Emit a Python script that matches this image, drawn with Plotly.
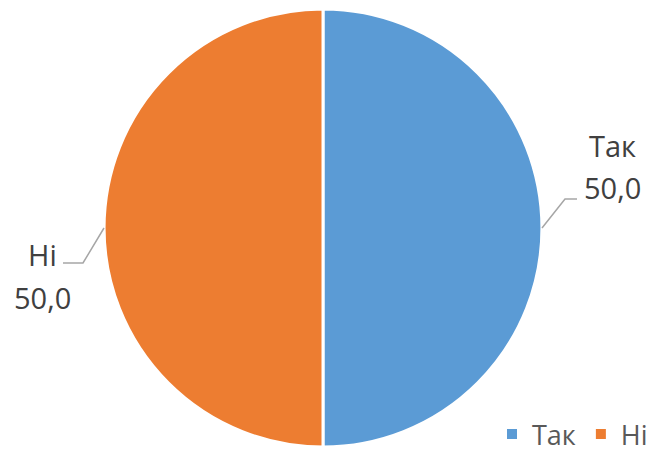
import math
import plotly.graph_objects as go

categories = ["Так", "Ні"]
values = [50.0, 50.0]
colors = ["#5B9BD5", "#ED7D31"]

W, H = 653, 459
cx, cy, r = 323, 228, 219  # pie geometry in px (from top)

def px(x):
    return x / W

def py(y):
    return 1 - y / H

fig = go.Figure()
fig.add_trace(go.Pie(
    labels=categories,
    values=values,
    sort=False,
    direction="clockwise",
    rotation=0,
    marker=dict(colors=colors, line=dict(color="white", width=3)),
    textinfo="none",
    hoverinfo="label+value",
    domain=dict(x=[px(cx - r), px(cx + r)], y=[py(cy + r), py(cy - r)]),
    showlegend=True,
))

total = sum(values)
start = 0.0
label_specs = [
    dict(elbow=(23, -29), hlen=12, tx=70, ty1=-83, ty2=-40),
    dict(elbow=(-21, 35), hlen=-20, tx=-62, ty1=26, ty2=69),
]
shapes = []
annotations = []
for cat, v, spec in zip(categories, values, label_specs):
    mid = start + v / 2
    start += v
    ang = math.radians(90 - 360 * mid / total)
    ex = cx + r * math.cos(ang)
    ey = cy - r * math.sin(ang)
    bx, by = ex + spec["elbow"][0], ey + spec["elbow"][1]
    hx = bx + spec["hlen"]
    shapes.append(dict(type="path", xref="paper", yref="paper",
                       path=f"M {px(ex)},{py(ey)} L {px(bx)},{py(by)} L {px(hx)},{py(by)}",
                       line=dict(color="#A6A6A6", width=1.5)))
    tx = ex + spec["tx"]
    annotations.append(dict(x=px(tx), y=py(ey + spec["ty1"]), xref="paper", yref="paper",
                            text=cat, showarrow=False, xanchor="center", yanchor="middle",
                            font=dict(size=29, color="#404040", family="Open Sans")))
    annotations.append(dict(x=px(tx), y=py(ey + spec["ty2"]), xref="paper", yref="paper",
                            text=f"{v:.1f}".replace(".", ","), showarrow=False,
                            xanchor="center", yanchor="middle",
                            font=dict(size=29, color="#404040", family="Open Sans")))

fig.update_layout(
    width=W, height=H,
    margin=dict(l=0, r=0, t=0, b=0, autoexpand=False),
    paper_bgcolor="white", plot_bgcolor="white",
    shapes=shapes,
    annotations=annotations,
    legend=dict(orientation="h", x=1.0, xanchor="right", y=0, yanchor="bottom",
                font=dict(size=27, color="#595959", family="Open Sans"),
                bgcolor="rgba(0,0,0,0)", itemsizing="constant"),
)

fig.write_html("out.html", config={"displayModeBar": False},
               post_script="document.body.style.margin='0';document.body.style.overflow='hidden';")
